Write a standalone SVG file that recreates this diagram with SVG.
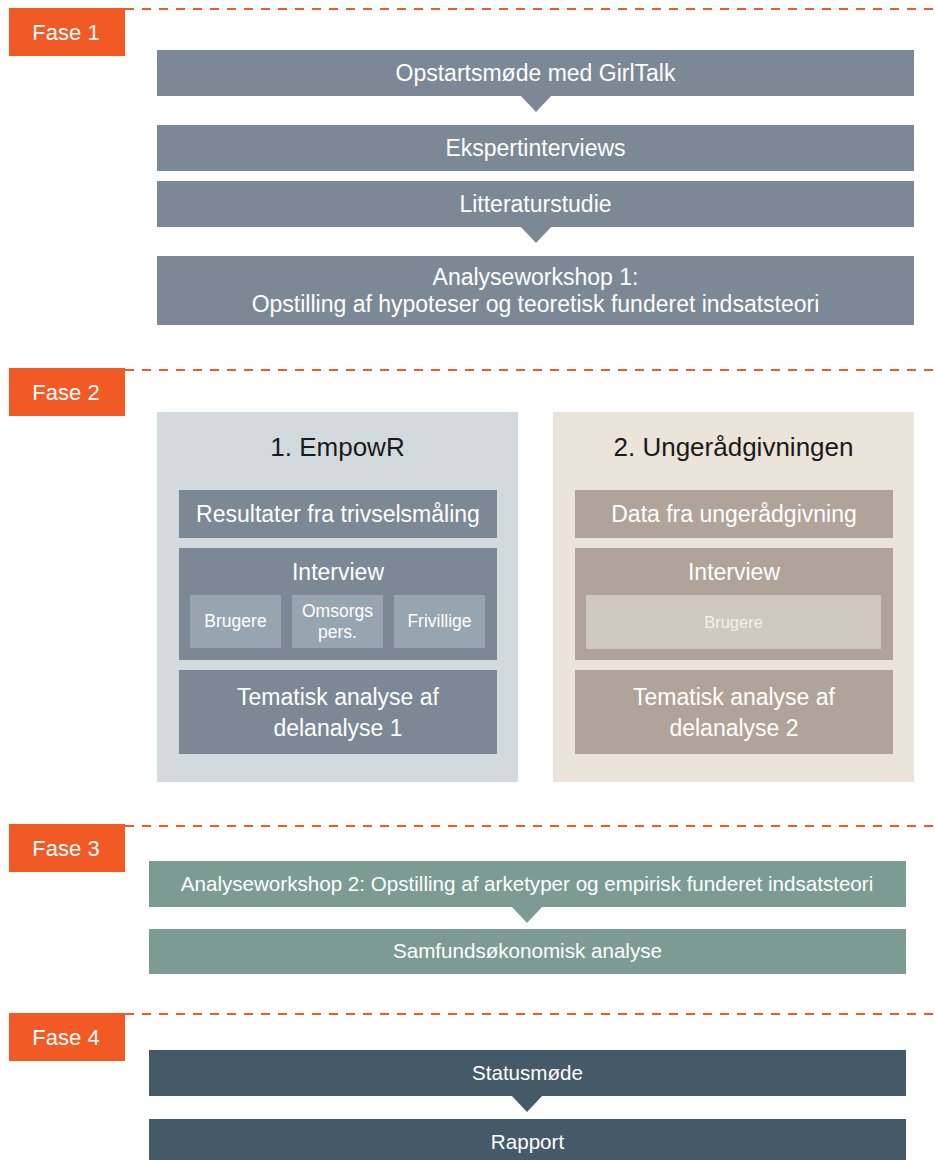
<svg xmlns="http://www.w3.org/2000/svg" width="935" height="1160" viewBox="0 0 935 1160">
<style>
text{font-family:"Liberation Sans",Arial,Helvetica,sans-serif;text-anchor:middle;}
.phase{fill:#F15A24;}
.phaseT{fill:#ffffff;font-size:22px;}
.dash{stroke:#F15A24;stroke-width:2;stroke-dasharray:9 8;fill:none;}
.slate{fill:#7D8896;}
.slateSub{fill:#97A5B1;}
.panelA{fill:#D3DADD;}
.panelB{fill:#EAE4DA;}
.taupe{fill:#B0A49A;}
.taupeSub{fill:#D0C9BE;}
.green{fill:#7C9C93;}
.dark{fill:#445A68;}
.w22{fill:#ffffff;font-size:23px;}
.w20{fill:#ffffff;font-size:20.6px;}
.w17{fill:#ffffff;font-size:17.5px;}
.w16{fill:#F4F1EC;font-size:16.5px;}
.title{fill:#1a1a1a;font-size:26px;}
</style>

<g id="phase1-header">
<line class="dash" x1="125" y1="9" x2="935" y2="9"/>
<rect class="phase" x="9" y="8" width="116" height="48"/>
<text class="phaseT" x="66" y="40">Fase 1</text>
</g>
<g id="opstart">
<rect class="slate" x="157" y="50" width="757" height="46"/>
<text class="w22" x="535.5" y="81">Opstartsmøde med GirlTalk</text>
</g>
<g id="ekspert">
<rect class="slate" x="157" y="125" width="757" height="46"/>
<text class="w22" x="535.5" y="156">Ekspertinterviews</text>
</g>
<g id="litteratur">
<rect class="slate" x="157" y="181" width="757" height="46"/>
<text class="w22" x="535.5" y="212">Litteraturstudie</text>
</g>
<g id="workshop1">
<rect class="slate" x="157" y="256" width="757" height="69"/>
<text class="w22" x="535.5" y="285">Analyseworkshop 1:</text>
<text class="w22" x="535.5" y="312">Opstilling af hypoteser og teoretisk funderet indsatsteori</text>
</g>

<g id="phase2-header">
<line class="dash" x1="125" y1="370" x2="935" y2="370"/>
<rect class="phase" x="9" y="368" width="116" height="48"/>
<text class="phaseT" x="66" y="400">Fase 2</text>
</g>
<g id="empowr">
<rect class="panelA" x="157" y="412" width="361" height="370"/>
<text class="title" x="337.5" y="456">1. EmpowR</text>
</g>
<g id="resultater">
<rect class="slate" x="179" y="490" width="318" height="48"/>
<text class="w22" x="338" y="522">Resultater fra trivselsmåling</text>
</g>
<g id="interview1">
<rect class="slate" x="179" y="548" width="318" height="112"/>
<text class="w22" x="338" y="580">Interview</text>
</g>
<g id="brugere1">
<rect class="slateSub" x="190" y="595" width="91" height="53"/>
<text class="w17" x="235.5" y="627">Brugere</text>
</g>
<g id="omsorg">
<rect class="slateSub" x="292" y="595" width="91" height="53"/>
<text class="w17" x="337.5" y="617">Omsorgs</text>
<text class="w17" x="337.5" y="638">pers.</text>
</g>
<g id="frivillige">
<rect class="slateSub" x="394" y="595" width="91" height="53"/>
<text class="w17" x="439.5" y="627">Frivillige</text>
</g>
<g id="tematisk1">
<rect class="slate" x="179" y="670" width="318" height="84"/>
<text class="w22" x="338" y="705">Tematisk analyse af</text>
<text class="w22" x="338" y="736">delanalyse 1</text>
</g>

<g id="ungeraad">
<rect class="panelB" x="553" y="412" width="361" height="370"/>
<text class="title" x="733.5" y="456">2. Ungerådgivningen</text>
</g>
<g id="data">
<rect class="taupe" x="575" y="490" width="318" height="48"/>
<text class="w22" x="734" y="522">Data fra ungerådgivning</text>
</g>
<g id="interview2">
<rect class="taupe" x="575" y="548" width="318" height="112"/>
<text class="w22" x="734" y="580">Interview</text>
</g>
<g id="brugere2">
<rect class="taupeSub" x="586" y="595" width="295" height="54"/>
<text class="w16" x="733.5" y="628">Brugere</text>
</g>
<g id="tematisk2">
<rect class="taupe" x="575" y="670" width="318" height="84"/>
<text class="w22" x="734" y="705">Tematisk analyse af</text>
<text class="w22" x="734" y="736">delanalyse 2</text>
</g>

<g id="phase3-header">
<line class="dash" x1="125" y1="826" x2="935" y2="826"/>
<rect class="phase" x="9" y="824" width="116" height="48"/>
<text class="phaseT" x="66" y="856">Fase 3</text>
</g>
<g id="workshop2">
<rect class="green" x="149" y="861" width="757" height="46"/>
<text class="w20" x="527" y="891">Analyseworkshop 2: Opstilling af arketyper og empirisk funderet indsatsteori</text>
</g>
<g id="samfund">
<rect class="green" x="149" y="929" width="757" height="45"/>
<text class="w20" x="527.5" y="958">Samfundsøkonomisk analyse</text>
</g>

<g id="phase4-header">
<line class="dash" x1="125" y1="1014" x2="935" y2="1014"/>
<rect class="phase" x="9" y="1013" width="116" height="48"/>
<text class="phaseT" x="66" y="1045">Fase 4</text>
</g>
<g id="status">
<rect class="dark" x="149" y="1050" width="757" height="46"/>
<text class="w20" x="527.5" y="1080">Statusmøde</text>
</g>
<g id="rapport">
<rect class="dark" x="149" y="1119" width="757" height="41"/>
<text class="w20" x="527.5" y="1149">Rapport</text>
</g>

<g id="connectors">
<polygon class="slate" points="520,95 552,95 536,112"/>
<polygon class="slate" points="520,226 552,226 536,243"/>
<polygon class="green" points="511,906 543,906 527,923"/>
<polygon class="dark" points="511,1095 543,1095 527,1112"/>
</g>
</svg>
